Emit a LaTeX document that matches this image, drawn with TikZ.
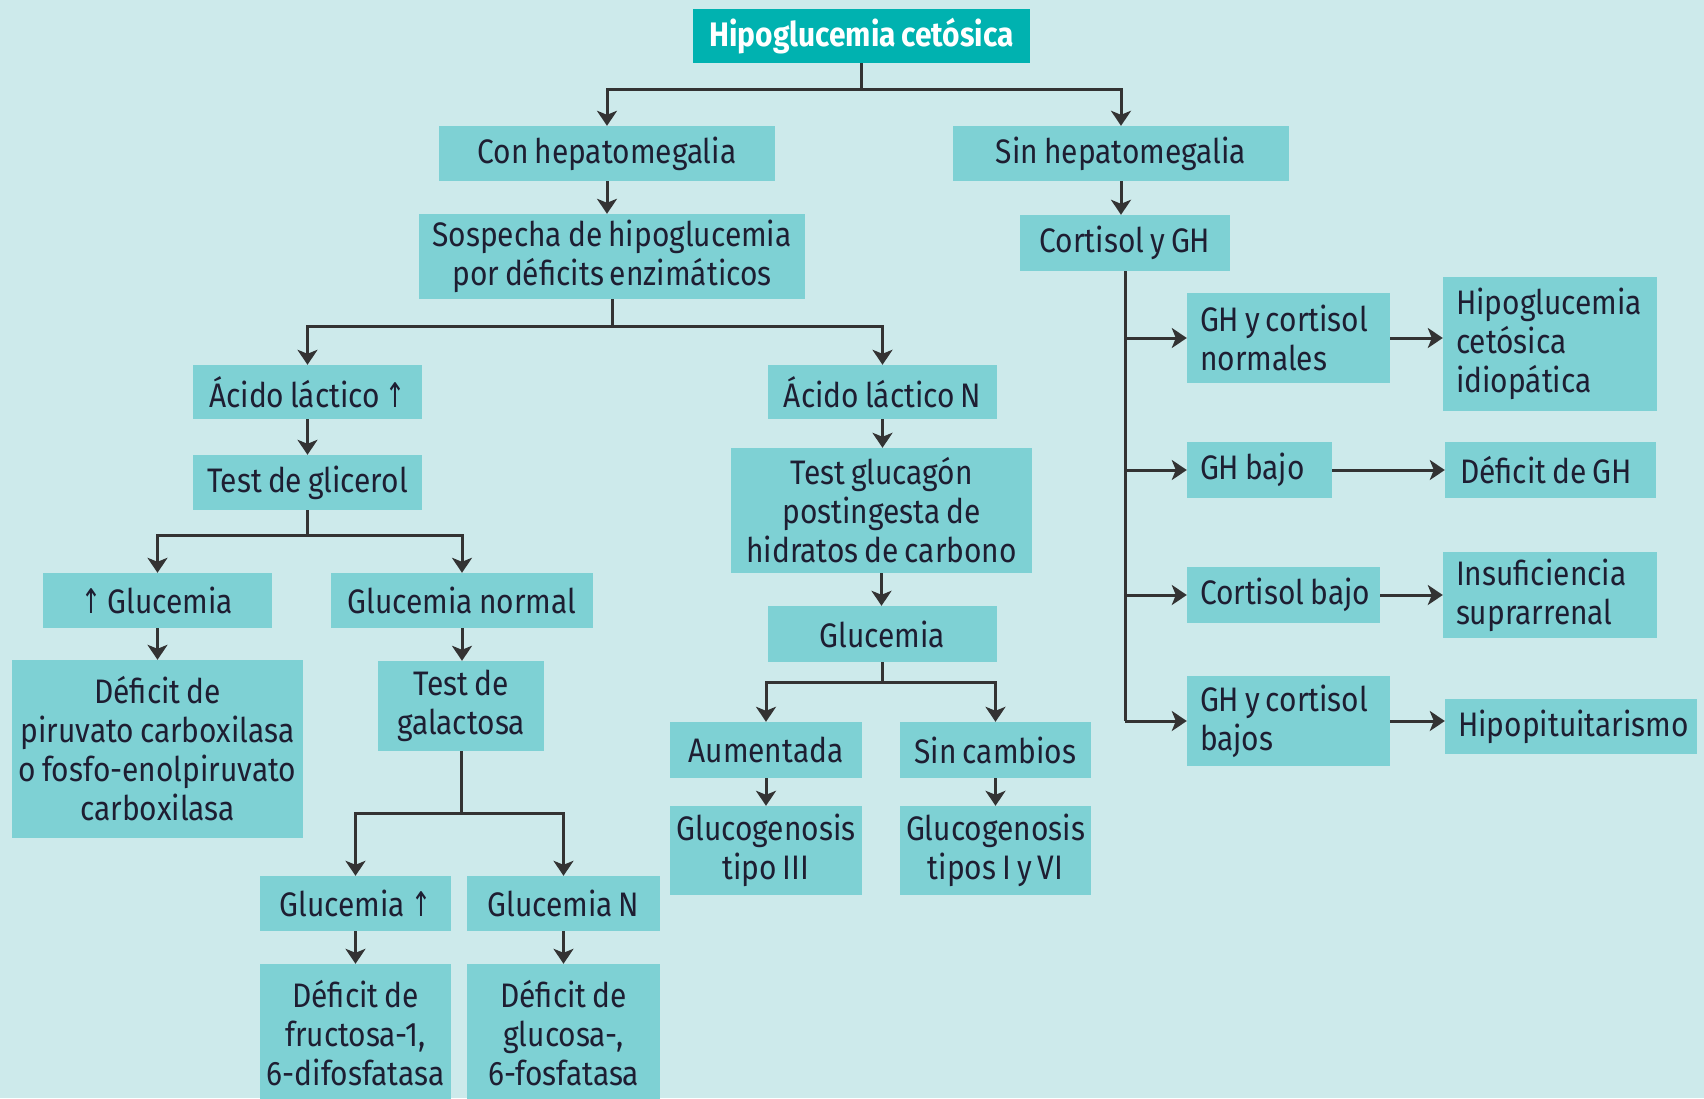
\documentclass[tikz,border=0pt]{standalone}
\usepackage{fontspec}
\setmainfont[FakeStretch=0.88,WordSpace=0.75]{Fira Sans}
\newfontfamily\symf[FakeStretch=0.7]{DejaVu Sans}
\usetikzlibrary{arrows.meta}
\definecolor{bgc}{RGB}{205,234,235}
\definecolor{boxc}{RGB}{126,209,212}
\definecolor{titc}{RGB}{0,178,176}
\definecolor{linec}{RGB}{51,51,51}
\definecolor{txtc}{RGB}{30,30,50}
\newcommand{\up}{{\symf\char"2191}}
\tikzset{
  box/.style={fill=boxc, inner sep=0pt, align=center, text=txtc,
    font=\fontsize{34}{39}\selectfont},
  lbl/.style={anchor=west, xshift=13pt, inner sep=0pt, align=left, text=txtc,
    font=\fontsize{34}{39}\selectfont},
  ln/.style={draw=linec, line width=3pt},
  arr/.style={ln, -{Stealth[length=15pt,width=20pt,inset=4pt]}},
}
\begin{document}
\begin{tikzpicture}[x=1pt,y=-1pt]
\useasboundingbox (0,0) rectangle (1704,1098);
\fill[bgc] (0,0) rectangle (1704,1098);
\begin{scope}
\clip (0,0) rectangle (1704,1098);
% nodes
\node[box, fill=titc, text=white, font=\fontsize{34}{39}\bfseries\selectfont, minimum width=337, minimum height=54] (title) at (861.5,36) {Hipoglucemia cetósica};
\node[box, minimum width=336, minimum height=55] (con) at (607,153.5) {Con hepatomegalia};
\node[box, minimum width=336, minimum height=55] (sin) at (1121,153.5) {Sin hepatomegalia};
\node[box, minimum width=386, minimum height=85] (sosp) at (612,256.5) {Sospecha de hipoglucemia\\por déficits enzimáticos};
\node[box, minimum width=210, minimum height=56] (cort) at (1125,243) {Cortisol y GH};
\node[box, minimum width=229, minimum height=54] (acup) at (307.5,392) {Ácido láctico \up};
\node[box, minimum width=229, minimum height=54] (acn) at (882.5,392) {Ácido láctico N};
\node[box, minimum width=229, minimum height=55] (glic) at (307.5,482.5) {Test de glicerol};
\node[box, minimum width=229, minimum height=55] (glup) at (157.5,600.5) {\up\ Glucemia};
\node[box, minimum width=262, minimum height=55] (gnorm) at (462,600.5) {Glucemia normal};
\node[box, minimum width=291, minimum height=178] (piru) at (157.5,749) {Déficit de\\piruvato carboxilasa\\o fosfo-enolpiruvato\\carboxilasa};
\node[box, minimum width=166, minimum height=90] (galac) at (461,706) {Test de\\galactosa};
\node[box, minimum width=191, minimum height=55] (gup) at (355.5,903.5) {Glucemia \up};
\node[box, minimum width=193, minimum height=55] (gn) at (563.5,903.5) {Glucemia N};
\node[box, minimum width=191, minimum height=138] (fruc) at (355.5,1033) {Déficit de\\fructosa-1,\\6-difosfatasa};
\node[box, minimum width=193, minimum height=138] (glc6) at (563.5,1033) {Déficit de\\glucosa-,\\6-fosfatasa};
\node[box, minimum width=301, minimum height=125] (tglu) at (881.5,510.5) {Test glucagón\\postingesta de\\hidratos de carbono};
\node[box, minimum width=229, minimum height=56] (gmid) at (882.5,634) {Glucemia};
\node[box, minimum width=192, minimum height=56] (aum) at (766,750) {Aumentada};
\node[box, minimum width=191, minimum height=56] (sinc) at (995.5,750) {Sin cambios};
\node[box, minimum width=192, minimum height=89] (g3) at (766,850.5) {Glucogenosis\\tipo III};
\node[box, minimum width=191, minimum height=89] (g16) at (995.5,850.5) {Glucogenosis\\tipos I y VI};
% right-hand boxes (left-aligned text)
\node[box, minimum width=203, minimum height=90] (ghn) at (1288.5,338) {};
\node[lbl] (ghnt) at (ghn.west) {GH y cortisol\\normales};
\node[box, minimum width=214, minimum height=134] (idio) at (1550,344) {};
\node[lbl] (idiot) at (idio.west) {Hipoglucemia\\cetósica\\idiopática};
\node[box, minimum width=145, minimum height=56] (ghb) at (1259.5,470) {};
\node[lbl] (ghbt) at (ghb.west) {GH bajo};
\node[box, minimum width=211, minimum height=56] (defgh) at (1550.5,470) {};
\node[lbl, xshift=2pt] (defght) at (defgh.west) {Déficit de GH};
\node[box, minimum width=193, minimum height=56] (cb) at (1283.5,595) {};
\node[lbl] (cbt) at (cb.west) {Cortisol bajo};
\node[box, minimum width=214, minimum height=86] (insu) at (1550,595) {};
\node[lbl] (insut) at (insu.west) {Insuficiencia\\suprarrenal};
\node[box, minimum width=203, minimum height=90] (ghcb) at (1288.5,721) {};
\node[lbl] (ghcbt) at (ghcb.west) {GH y cortisol\\bajos};
\node[box, minimum width=252, minimum height=55] (hipo) at (1571,726.5) {};
\node[lbl] (hipot) at (hipo.west) {Hipopituitarismo};
\end{scope}
% connectors
\draw[ln] (title.south) -- ++(0,26) coordinate (b1);
\draw[arr] (b1) -| (con.north);
\draw[arr] (b1) -| (sin.north);
\draw[arr] (con.south) -- (con.south |- sosp.north);
\draw[arr] (sin.south) -- (sin.south |- cort.north);
\draw[ln] (sosp.south) -- ++(0,27) coordinate (b2);
\draw[arr] (b2) -| (acup.north);
\draw[arr] (b2) -| (acn.north);
\draw[arr] (acup.south) -- (glic.north);
\draw[ln] (glic.south) -- ++(0,25) coordinate (b3);
\draw[arr] (b3) -| (glup.north);
\draw[arr] (b3) -| (gnorm.north);
\draw[arr] (glup.south) -- (piru.north);
\draw[arr] (gnorm.south) -- (gnorm.south |- galac.north);
\draw[ln] (galac.south) -- ++(0,62) coordinate (b4);
\draw[arr] (b4) -| (gup.north);
\draw[arr] (b4) -| (gn.north);
\draw[arr] (gup.south) -- (fruc.north);
\draw[arr] (gn.south) -- (glc6.north);
\draw[arr] (acn.south) -- (acn.south |- tglu.north);
\draw[arr] (tglu.south) -- (tglu.south |- gmid.north);
\draw[ln] (gmid.south) -- ++(0,20) coordinate (b5);
\draw[arr] (b5) -| (aum.north);
\draw[arr] (b5) -| (sinc.north);
\draw[arr] (aum.south) -- (g3.north);
\draw[arr] (sinc.south) -- (g16.north);
\draw[ln] (cort.south) -- (cort.south |- ghcb.west);
\draw[arr] (cort.south |- ghn.west) -- (ghn.west);
\draw[arr] (cort.south |- ghb.west) -- (ghb.west);
\draw[arr] (cort.south |- cb.west) -- (cb.west);
\draw[arr] (cort.south |- ghcb.west) -- (ghcb.west);
\draw[arr] (ghn.east) -- (ghn.east -| idio.west);
\draw[arr] (ghb.east) -- (ghb.east -| defgh.west);
\draw[arr] (cb.east) -- (cb.east -| insu.west);
\draw[arr] (ghcb.east) -- (ghcb.east -| hipo.west);
\end{tikzpicture}
\end{document}
